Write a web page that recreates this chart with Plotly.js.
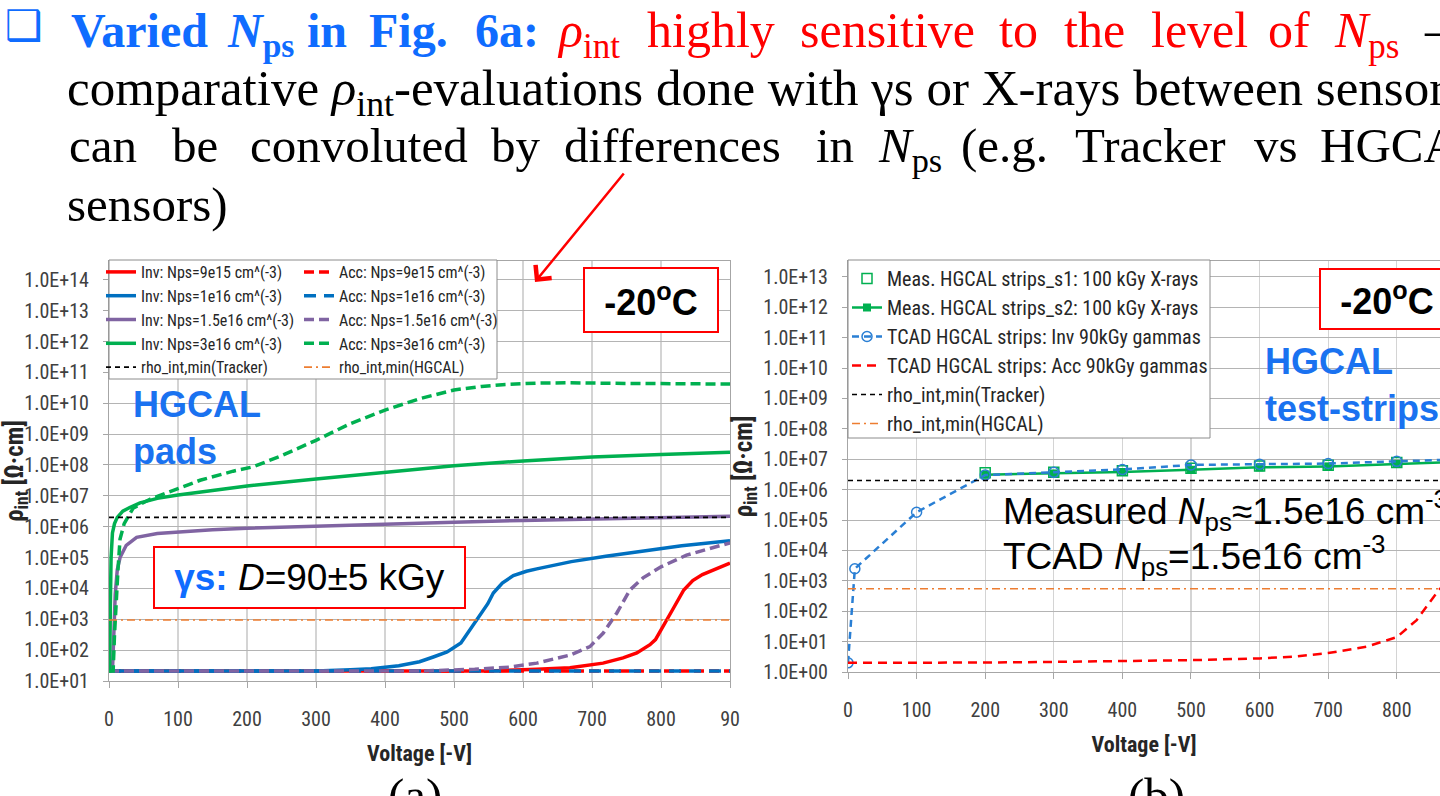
<!DOCTYPE html>
<html><head><meta charset="utf-8">
<script src="https://cdn.plot.ly/plotly-3.0.1.min.js"></script>
<style>html,body{margin:0;padding:0;background:#fff;overflow:hidden}#chart{width:1440px;height:796px}</style>
</head><body><div id="chart"></div>
<script>
// ---------------- DATA: left chart (a) HGCAL pads, TCAD, -20 C ----------------
const leftInv9e15V   = [0,550,620,668,716,745,765,784,792,799,809,819,833,846,860,882,900];
const leftInv9e15Rho = [21,21,24,27,38,56,81,150,220,400,950,2500,8900,1.8e4,2.8e4,4.5e4,6.6e4];
const leftAcc9e15V   = [0,900];
const leftAcc9e15Rho = [21,21];
const leftInv1e16V   = [0,300,350,380,420,450,470,490,510,520,530,540,549,557,570,586,605,620,645,670,720,770,830,900];
const leftInv1e16Rho = [21,21,23,25,31,42,60,87,170,360,810,1600,3200,7100,1.5e4,2.6e4,3.6e4,4.3e4,5.8e4,7.4e4,1.1e5,1.6e5,2.4e5,3.5e5];
const leftAcc1e16V   = [0,900];
const leftAcc1e16Rho = [21,21];
const leftInv15e16V   = [0,5,7,9,12,16,25,40,70,100,150,200,300,400,500,600,700,800,900];
const leftInv15e16Rho = [21,21,320,6300,4.0e4,1.0e5,2.5e5,4.5e5,6.0e5,6.8e5,7.9e5,8.9e5,1.05e6,1.23e6,1.4e6,1.6e6,1.8e6,2.0e6,2.2e6];
const leftAcc15e16V   = [0,450,530,580,620,668,697,716,736,755,774,800,837,870,900];
const leftAcc15e16Rho = [21,21,24,28,38,69,130,350,1600,8900,2.2e4,5.0e4,1.2e5,2.0e5,3.0e5];
const leftInv3e16V   = [0,1,2,3,5,8,12,20,30,45,70,100,150,200,300,400,500,600,700,800,900];
const leftInv3e16Rho = [21,21,3200,1.0e5,6.3e5,1.26e6,2.0e6,3.2e6,4.2e6,5.9e6,8.3e6,1.07e7,1.5e7,2.1e7,3.5e7,5.6e7,9.5e7,1.35e8,1.8e8,2.2e8,2.6e8];
const leftAcc3e16V   = [0,6,8,10,13,16,22,35,60,84,132,180,209,250,300,350,400,450,500,540,570,620,668,750,820,900];
const leftAcc3e16Rho = [21,21,320,4000,4.0e4,4.0e5,1.26e6,4.0e6,7.9e6,1.26e7,3.2e7,6.3e7,8.7e7,2.0e8,6.3e8,2.2e9,6.0e9,1.4e10,2.7e10,3.5e10,4.0e10,4.5e10,4.6e10,4.4e10,4.3e10,4.2e10];
const leftLimitV        = [0,900];
const leftTrackerMin    = [2.0e6,2.0e6];
const leftHgcalMin      = [950,950];

// ---------------- DATA: right chart (b) HGCAL test-strips ----------------
const rightMeasV      = [200,300,400,500,600,700,800,900];
const rightMeasS1Rho  = [3.6e6,3.7e6,4.2e6,5.0e6,6.0e6,6.3e6,7.8e6,8.9e6];
const rightMeasS2Rho  = [3.1e6,3.4e6,3.8e6,4.5e6,5.4e6,5.8e6,7.1e6,8.3e6];
const rightTcadInvV   = [0,10,100,200,300,400,500,600,700,800,900];
const rightTcadInvRho = [2,2.5e3,1.8e5,3.0e6,3.7e6,4.6e6,6.5e6,6.8e6,7.2e6,8.5e6,1.0e7];
const rightTcadAccV   = [0,100,200,300,400,500,600,650,700,756,800,829,854,864];
const rightTcadAccRho = [2,2,2.05,2.15,2.3,2.45,2.8,3.2,4.2,6.8,14,51,300,580];
const rightLimitV     = [0,900];
const rightTrackerMin = [2.0e6,2.0e6];
const rightHgcalMin   = [550,550];

// ---------------- TICKS / LABELS ----------------
const leftXTickVals  = [0,100,200,300,400,500,600,700,800,900];
const leftXTickText  = ['0','100','200','300','400','500','600','700','800','90'];
const rightXTickVals = [0,100,200,300,400,500,600,700,800];
const rightXTickText = ['0','100','200','300','400','500','600','700','800'];
const leftYTickVals  = [1e1,1e2,1e3,1e4,1e5,1e6,1e7,1e8,1e9,1e10,1e11,1e12,1e13,1e14];
const leftYTickText  = ['1.0E+01','1.0E+02','1.0E+03','1.0E+04','1.0E+05','1.0E+06','1.0E+07','1.0E+08','1.0E+09','1.0E+10','1.0E+11','1.0E+12','1.0E+13','1.0E+14'];
const rightYTickVals = [1e0,1e1,1e2,1e3,1e4,1e5,1e6,1e7,1e8,1e9,1e10,1e11,1e12,1e13];
const rightYTickText = ['1.0E+00','1.0E+01','1.0E+02','1.0E+03','1.0E+04','1.0E+05','1.0E+06','1.0E+07','1.0E+08','1.0E+09','1.0E+10','1.0E+11','1.0E+12','1.0E+13'];

// ---------------- STYLE ----------------
const W = 1440, H = 796;
const px = v => v / W, py = v => 1 - v / H;
const NARROW = "'Liberation Sans Narrow','Arial Narrow','Roboto Condensed',sans-serif";
const ARIAL = "'Liberation Sans',Arial,sans-serif";
const SERIF = "'Liberation Serif','Times New Roman',serif";
const BLUE_TXT = '#0f6cff', RED = '#ff0000';
const C_RED = '#ff0000', C_BLUE = '#0070c0', C_PURPLE = '#8064a2', C_GREEN = '#00b050';
const ACCDASH = '10px,5px';

function L(x, y, name, color, dash, width, legend, xa, ya) {
  return {x, y, name, type:'scatter', mode:'lines', line:{color, width, dash}, legend, xaxis:xa, yaxis:ya, hoverinfo:'skip'};
}
const traces = [
  L(leftInv9e15V, leftInv9e15Rho, 'Inv: Nps=9e15 cm^(-3)', C_RED, 'solid', 3.5, 'legend', 'x', 'y'),
  L(leftAcc9e15V, leftAcc9e15Rho, 'Acc: Nps=9e15 cm^(-3)', C_RED, ACCDASH, 3.5, 'legend2', 'x', 'y'),
  L(leftInv1e16V, leftInv1e16Rho, 'Inv: Nps=1e16 cm^(-3)', C_BLUE, 'solid', 3.5, 'legend', 'x', 'y'),
  L(leftAcc1e16V, leftAcc1e16Rho, 'Acc: Nps=1e16 cm^(-3)', C_BLUE, '12px,8px', 3.5, 'legend2', 'x', 'y'),
  L(leftInv15e16V, leftInv15e16Rho, 'Inv: Nps=1.5e16 cm^(-3)', C_PURPLE, 'solid', 3.5, 'legend', 'x', 'y'),
  L(leftAcc15e16V, leftAcc15e16Rho, 'Acc: Nps=1.5e16 cm^(-3)', C_PURPLE, ACCDASH, 3.5, 'legend2', 'x', 'y'),
  L(leftInv3e16V, leftInv3e16Rho, 'Inv: Nps=3e16 cm^(-3)', C_GREEN, 'solid', 3.5, 'legend', 'x', 'y'),
  L(leftAcc3e16V, leftAcc3e16Rho, 'Acc: Nps=3e16 cm^(-3)', C_GREEN, ACCDASH, 3.5, 'legend2', 'x', 'y'),
  L(leftLimitV, leftTrackerMin, 'rho_int,min(Tracker)', '#000000', '5px,4px', 1.6, 'legend', 'x', 'y'),
  L(leftLimitV, leftHgcalMin, 'rho_int,min(HGCAL)', '#ed7d31', '8px,4px,2px,4px', 1.6, 'legend2', 'x', 'y'),
  {x:rightMeasV, y:rightMeasS1Rho, name:'Meas. HGCAL strips_s1: 100 kGy X-rays', type:'scatter', mode:'markers',
   marker:{symbol:'square-open', size:10, color:C_GREEN, line:{width:1.5}}, legend:'legend3', xaxis:'x2', yaxis:'y2', hoverinfo:'skip'},
  {x:rightMeasV, y:rightMeasS2Rho, name:'Meas. HGCAL strips_s2: 100 kGy X-rays', type:'scatter', mode:'lines+markers',
   line:{color:C_GREEN, width:2.5}, marker:{symbol:'square', size:8, color:C_GREEN}, legend:'legend3', xaxis:'x2', yaxis:'y2', hoverinfo:'skip'},
  {x:rightTcadInvV, y:rightTcadInvRho, name:'TCAD HGCAL strips: Inv 90kGy gammas', type:'scatter', mode:'lines+markers',
   line:{color:'#2a7fd4', width:2.5, dash:'7px,5px'}, marker:{symbol:'circle-open', size:10, color:'#2a7fd4', line:{width:1.5}},
   legend:'legend3', xaxis:'x2', yaxis:'y2', hoverinfo:'skip'},
  L(rightTcadAccV, rightTcadAccRho, 'TCAD HGCAL strips: Acc 90kGy gammas', C_RED, '9px,6px', 2.5, 'legend3', 'x2', 'y2'),
  L(rightLimitV, rightTrackerMin, 'rho_int,min(Tracker)', '#000000', '5px,4px', 1.6, 'legend3', 'x2', 'y2'),
  L(rightLimitV, rightHgcalMin, 'rho_int,min(HGCAL)', '#ed7d31', '8px,4px,2px,4px', 1.6, 'legend3', 'x2', 'y2')
];

const tickFont = {family:NARROW, size:20, color:'#404040'};
function xAxis(domain, range, vals, text, anchor) {
  return {domain, range, anchor, tickvals:vals, ticktext:text, tickfont:tickFont, showgrid:true, gridcolor:'#d4d4d4', gridwidth:1.2,
    zeroline:false, showline:true, linecolor:'#a6a6a6', mirror:true, ticks:'outside', ticklen:6, tickcolor:'#a6a6a6',
    ticklabelstandoff:14, title:{text:'<b>Voltage [-V]</b>', font:{family:NARROW, size:22, color:'#262626'}, standoff:15}};
}
function yAxis(domain, range, vals, text, anchor) {
  return {type:'log', domain, range, anchor, tickvals:vals, ticktext:text, tickfont:tickFont, showgrid:true, gridcolor:'#b4b4b4', gridwidth:1,
    zeroline:false, showline:true, linecolor:'#a6a6a6', mirror:true, ticks:'outside', ticklen:5, tickcolor:'#a6a6a6',
    ticklabelstandoff:10, title:{text:'<b>ρ<sub>int</sub> [Ω·cm]</b>', font:{family:NARROW, size:25, color:'#262626'}, standoff:3}};
}

// text placed by baseline (top of text box = baseline - ascent)
function word(text, x, baseline, color, size, family) {
  size = size || 49;
  const asc = family ? 0.905 : 0.891;
  return {text, x:px(x), y:py(baseline - asc * size - 2), xref:'paper', yref:'paper', xanchor:'left', yanchor:'top', showarrow:false,
    font:{family:family||SERIF, size:size, color:color||'#000'}};
}
const annotations = [];
annotations.push({text:'❑', x:px(3), y:py(-1), xref:'paper', yref:'paper', xanchor:'left', yanchor:'top', showarrow:false,
  font:{family:"'DejaVu Sans',sans-serif", size:42, color:BLUE_TXT}});
const line1 = [['<b>Varied</b>',69,BLUE_TXT,48],['<b><i>N</i><sub>ps</sub></b>',225,BLUE_TXT,48],['<b>in</b>',305,BLUE_TXT,48],['<b>Fig.</b>',367,BLUE_TXT,48],
  ['<b>6a:</b>',473,BLUE_TXT,48],['<i>ρ</i><sub>int</sub>',555,RED,50],['highly',645,RED,50],['sensitive',798,RED,50],['to',997,RED,50],['the',1062,RED,50],
  ['level',1149,RED,50],['of',1266,RED,50],['<i>N</i><sub>ps</sub>',1332,RED,50],['–',1422,'#000',50]];
line1.forEach(w => annotations.push(word(w[0], w[1], 47, w[2], w[3])));
annotations.push(word('comparative <i>ρ</i><sub>int</sub>-evaluations done with γs or X-rays between sensor', 65, 105, '#000', 51));
const line3 = [['can',67],['be',170],['convoluted',248],['by',489],['differences',562],['in',814],['<i>N</i><sub>ps</sub>',876],
  ['(e.g.',959],['Tracker',1073],['vs',1252],['HGCAL',1318]];
line3.forEach(w => annotations.push(word(w[0], w[1], 162, '#000', 49)));
annotations.push(word('sensors)', 65, 221, '#000', 49));
annotations.push(word('(a)', 386, 812, '#000', 49));
annotations.push(word('(b)', 1126, 812, '#000', 49));

// arrow
annotations.push({text:'', x:px(535), y:py(282), xref:'paper', yref:'paper', showarrow:true, ax:90, ay:-110,
  arrowcolor:RED, arrowwidth:2.5, arrowhead:4, arrowsize:1.6});

// boxed labels
function box(text, cx, cy, w, h, size) {
  return {text, x:px(cx), y:py(cy), xref:'paper', yref:'paper', xanchor:'center', yanchor:'middle', showarrow:false,
    width:w, height:h, bordercolor:RED, borderwidth:2, borderpad:0, bgcolor:'#ffffff', align:'center',
    font:{family:ARIAL, size:size, color:'#000'}};
}
annotations.push(box('<b>-20<sup>o</sup>C</b>', 651, 300, 132, 62, 36));
annotations.push(box('<b>-20<sup>o</sup>C</b>', 1387, 299, 132, 58, 36));
annotations.push(box('<b><span style="color:#0f6cff">γs:</span></b> <i>D</i>=90±5 kGy', 309.5, 577.5, 309, 59, 37));
annotations.push({...word('<b>HGCAL<br>pads</b>', 131, 417, '#1a72f0', 36, ARIAL), align:'left'});
annotations.push({...word('<b>HGCAL<br>test-strips</b>', 1263, 374, '#1a72f0', 36, ARIAL), align:'left'});
const measText = ['Measured <i>N</i><sub>ps</sub>≈1.5e16 cm<sup>-3</sup>', 'TCAD <i>N</i><sub>ps</sub>=1.5e16 cm<sup>-3</sup>'];
annotations.push({text:measText[0], x:px(1001), y:py(483), xref:'paper', yref:'paper', xanchor:'left', yanchor:'top', showarrow:false,
  font:{family:ARIAL, size:37, color:'#000'}});
annotations.push({text:measText[1], x:px(1001), y:py(528), xref:'paper', yref:'paper', xanchor:'left', yanchor:'top', showarrow:false,
  font:{family:ARIAL, size:37, color:'#000'}});

// legend boxes
const shapes = [
  {type:'rect', xref:'paper', yref:'paper', x0:px(109), x1:px(497), y0:py(260), y1:py(379), fillcolor:'#ffffff', line:{color:'#8c8c8c', width:1}, layer:'above'},
  {type:'rect', xref:'paper', yref:'paper', x0:px(848), x1:px(1210), y0:py(260), y1:py(438), fillcolor:'#ffffff', line:{color:'#8c8c8c', width:1}, layer:'above'}
];

const legFont = {family:NARROW, size:16, color:'#262626'};
const layout = {
  width:W, height:H, margin:{l:0, r:0, t:0, b:0}, paper_bgcolor:'#ffffff', plot_bgcolor:'#ffffff',
  showlegend:true, hovermode:false,
  xaxis: xAxis([px(109), px(730)], [0,900], leftXTickVals, leftXTickText, 'y'),
  yaxis: yAxis([py(681), py(261)], [1, 14.61], leftYTickVals, leftYTickText, 'x'),
  xaxis2: xAxis([px(848), 1], [0,863], rightXTickVals, rightXTickText, 'y2'),
  yaxis2: yAxis([py(672), py(261)], [0, 13.52], rightYTickVals, rightYTickText, 'x2'),
  legend:  {x:px(101), y:py(255), xanchor:'left', yanchor:'top', bgcolor:'rgba(0,0,0,0)', borderwidth:0, font:legFont, tracegroupgap:0},
  legend2: {x:px(299), y:py(255), xanchor:'left', yanchor:'top', bgcolor:'rgba(0,0,0,0)', borderwidth:0, font:legFont, tracegroupgap:0},
  legend3: {x:px(847), y:py(259), xanchor:'left', yanchor:'top', bgcolor:'rgba(0,0,0,0)', borderwidth:0, font:{family:NARROW, size:20, color:'#262626'}, tracegroupgap:0},
  annotations, shapes
};
Plotly.newPlot('chart', traces, layout, {staticPlot:true, displayModeBar:false});
</script></body></html>
